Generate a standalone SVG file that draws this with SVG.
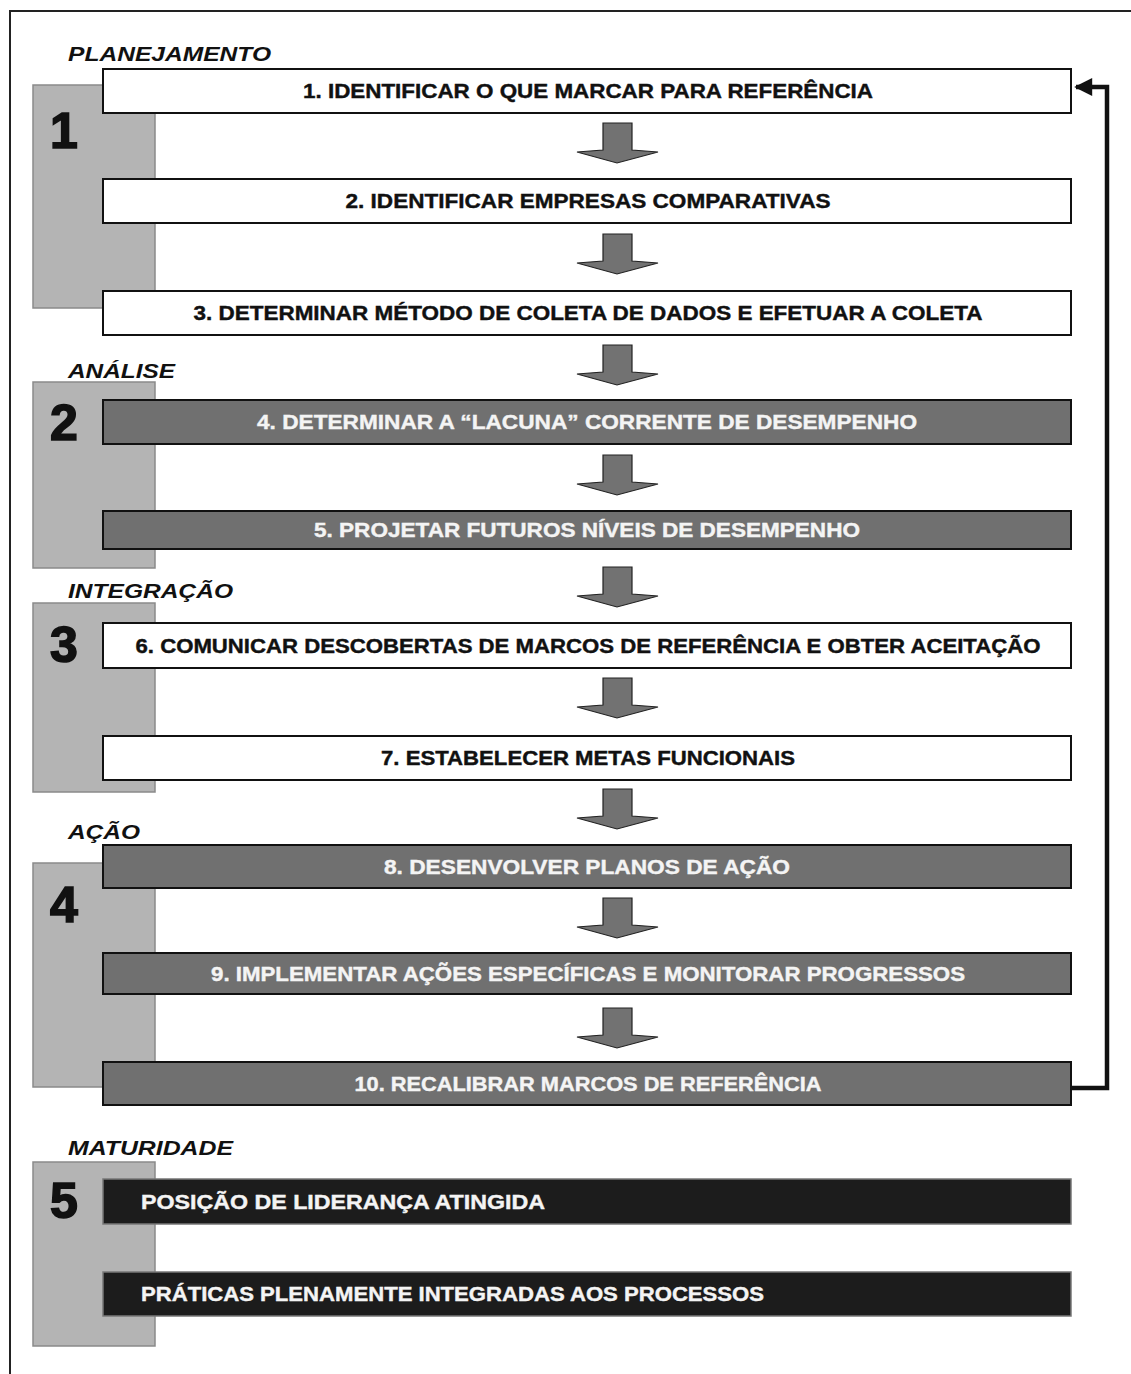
<svg xmlns="http://www.w3.org/2000/svg" width="1131" height="1374" viewBox="0 0 1131 1374">
<defs>
<style>
.frame{fill:none;stroke:#222;stroke-width:2}
.stage{fill:#b4b4b4;stroke:#8a8a8a;stroke-width:1.5}
.num{font-family:"Liberation Sans",Arial,sans-serif;font-weight:bold;font-size:50px;fill:#111;stroke:#111;stroke-width:1.6}
.phase{font-family:"Liberation Sans",Arial,sans-serif;font-weight:bold;font-style:italic;font-size:21px;fill:#111}
.bw{fill:#fff;stroke:#111;stroke-width:2}
.bg{fill:#707070;stroke:#111;stroke-width:2}
.bk{fill:#1c1c1c;stroke:#777;stroke-width:1.5}
.tw{font-family:"Liberation Sans",Arial,sans-serif;font-weight:bold;font-size:20px;fill:#111;stroke:#111;stroke-width:0.4;text-anchor:middle}
.tg{font-family:"Liberation Sans",Arial,sans-serif;font-weight:bold;font-size:20px;fill:#f4f4f4;stroke:#f4f4f4;stroke-width:0.4;text-anchor:middle}
.tk{font-family:"Liberation Sans",Arial,sans-serif;font-weight:bold;font-size:20px;fill:#f4f4f4;stroke:#f4f4f4;stroke-width:0.4}
.arr{fill:#727272;stroke:#222;stroke-width:1.2;stroke-linejoin:miter}
.ret{fill:none;stroke:#111;stroke-width:4.5;stroke-linejoin:miter}
</style>
<marker id="ah" viewBox="0 0 10 10" refX="9" refY="5" markerWidth="4.5" markerHeight="4" orient="auto" markerUnits="strokeWidth">
<path d="M0,0 L10,5 L0,10 Z" fill="#111"/>
</marker>
<polygon id="darr" class="arr" points="603,0 632,0 632,27 658,29 617,40 577,29 603,27"/>
</defs>
<rect width="1131" height="1374" fill="#fff"/>
<path class="frame" d="M10,1374 V11 H1131"/>

<g id="phase1">
<text class="phase" x="68" y="61" textLength="203" lengthAdjust="spacingAndGlyphs">PLANEJAMENTO</text>
<rect class="stage" x="33" y="85" width="122" height="223"/>
<text class="num" x="50" y="148">1</text>
</g>
<g id="phase2">
<text class="phase" x="68" y="378" textLength="107" lengthAdjust="spacingAndGlyphs">ANÁLISE</text>
<rect class="stage" x="33" y="382" width="122" height="186"/>
<text class="num" x="50" y="440">2</text>
</g>
<g id="phase3">
<text class="phase" x="68" y="598" textLength="165" lengthAdjust="spacingAndGlyphs">INTEGRAÇÃO</text>
<rect class="stage" x="33" y="603" width="122" height="189"/>
<text class="num" x="50" y="662">3</text>
</g>
<g id="phase4">
<text class="phase" x="68" y="839" textLength="72" lengthAdjust="spacingAndGlyphs">AÇÃO</text>
<rect class="stage" x="33" y="863" width="122" height="224"/>
<text class="num" x="50" y="922">4</text>
</g>
<g id="phase5">
<text class="phase" x="68" y="1155" textLength="165" lengthAdjust="spacingAndGlyphs">MATURIDADE</text>
<rect class="stage" x="33" y="1162" width="122" height="184"/>
<text class="num" x="50" y="1218">5</text>
</g>

<g id="connectors">
<use href="#darr" y="123"/>
<use href="#darr" y="234"/>
<use href="#darr" y="345"/>
<use href="#darr" y="455"/>
<use href="#darr" y="567"/>
<use href="#darr" y="678"/>
<use href="#darr" y="789"/>
<use href="#darr" y="898"/>
<use href="#darr" y="1008"/>
<path class="ret" d="M1072,1088 H1107 V87 H1076" marker-end="url(#ah)"/>
</g>

<g id="step1"><rect class="bw" x="103" y="69" width="968" height="44"/><text class="tw" x="588" y="98" textLength="570" lengthAdjust="spacingAndGlyphs">1. IDENTIFICAR O QUE MARCAR PARA REFERÊNCIA</text></g>
<g id="step2"><rect class="bw" x="103" y="179" width="968" height="44"/><text class="tw" x="588" y="208" textLength="485" lengthAdjust="spacingAndGlyphs">2. IDENTIFICAR EMPRESAS COMPARATIVAS</text></g>
<g id="step3"><rect class="bw" x="103" y="291" width="968" height="44"/><text class="tw" x="588" y="320" textLength="789" lengthAdjust="spacingAndGlyphs">3. DETERMINAR MÉTODO DE COLETA DE DADOS E EFETUAR A COLETA</text></g>
<g id="step4"><rect class="bg" x="103" y="400" width="968" height="44"/><text class="tg" x="587" y="429" textLength="660" lengthAdjust="spacingAndGlyphs">4. DETERMINAR A “LACUNA” CORRENTE DE DESEMPENHO</text></g>
<g id="step5"><rect class="bg" x="103" y="511" width="968" height="38"/><text class="tg" x="587" y="537" textLength="546" lengthAdjust="spacingAndGlyphs">5. PROJETAR FUTUROS NÍVEIS DE DESEMPENHO</text></g>
<g id="step6"><rect class="bw" x="103" y="623" width="968" height="45"/><text class="tw" x="588" y="653" textLength="905" lengthAdjust="spacingAndGlyphs">6. COMUNICAR DESCOBERTAS DE MARCOS DE REFERÊNCIA E OBTER ACEITAÇÃO</text></g>
<g id="step7"><rect class="bw" x="103" y="736" width="968" height="44"/><text class="tw" x="588" y="765" textLength="414" lengthAdjust="spacingAndGlyphs">7. ESTABELECER METAS FUNCIONAIS</text></g>
<g id="step8"><rect class="bg" x="103" y="845" width="968" height="43"/><text class="tg" x="587" y="874" textLength="406" lengthAdjust="spacingAndGlyphs">8. DESENVOLVER PLANOS DE AÇÃO</text></g>
<g id="step9"><rect class="bg" x="103" y="953" width="968" height="41"/><text class="tg" x="588" y="981" textLength="754" lengthAdjust="spacingAndGlyphs">9. IMPLEMENTAR AÇÕES ESPECÍFICAS E MONITORAR PROGRESSOS</text></g>
<g id="step10"><rect class="bg" x="103" y="1062" width="968" height="43"/><text class="tg" x="588" y="1091" textLength="467" lengthAdjust="spacingAndGlyphs">10. RECALIBRAR MARCOS DE REFERÊNCIA</text></g>
<g id="mat1"><rect class="bk" x="103" y="1179" width="968" height="45"/><text class="tk" x="141" y="1209" textLength="404" lengthAdjust="spacingAndGlyphs">POSIÇÃO DE LIDERANÇA ATINGIDA</text></g>
<g id="mat2"><rect class="bk" x="103" y="1272" width="968" height="44"/><text class="tk" x="141" y="1301" textLength="623" lengthAdjust="spacingAndGlyphs">PRÁTICAS PLENAMENTE INTEGRADAS AOS PROCESSOS</text></g>
</svg>
